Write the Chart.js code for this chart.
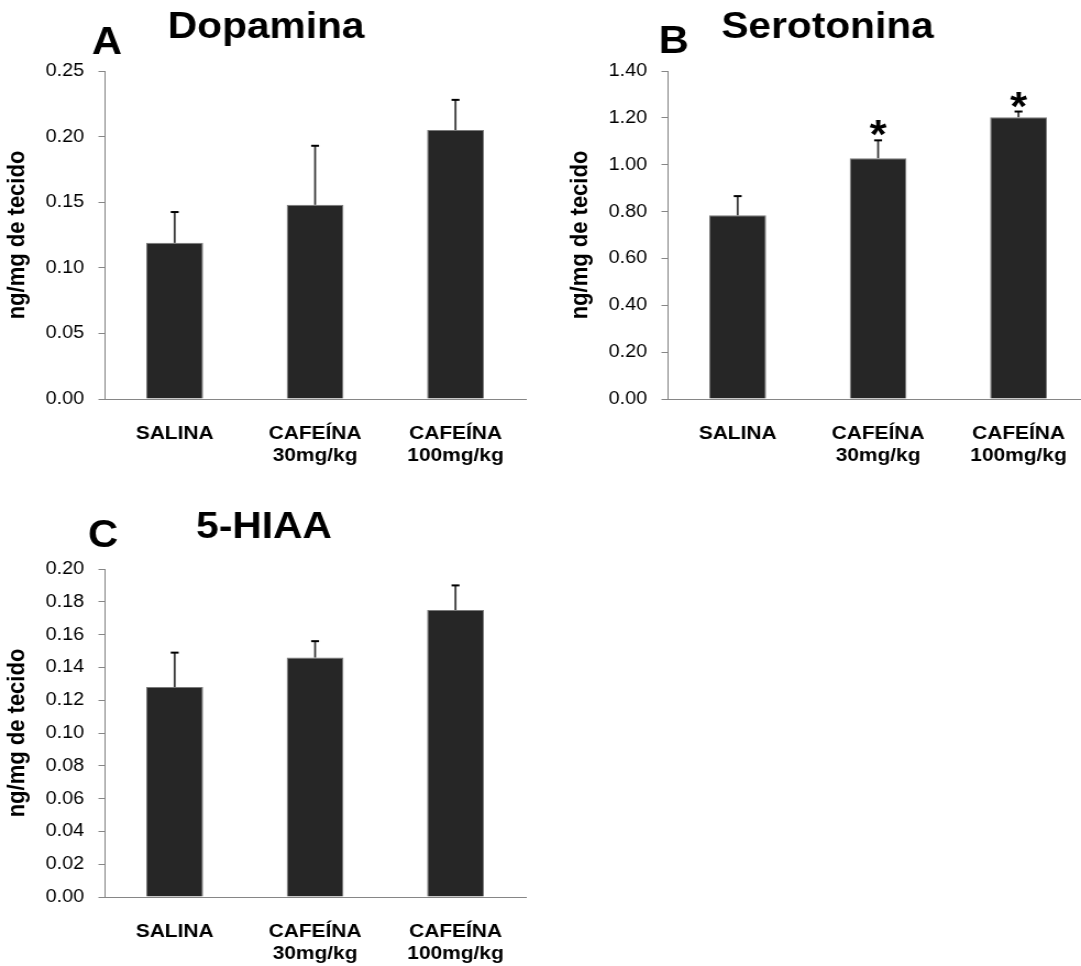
<!DOCTYPE html>
<html lang="pt">
<head>
<meta charset="UTF-8">
<script src="https://cdn.jsdelivr.net/npm/chart.js@4.4.0/dist/chart.umd.min.js"></script>
<title>Dopamina, Serotonina e 5-HIAA</title>
<style>
  html, body { margin: 0; padding: 0; background: #fff; overflow: hidden; width: 1081px; height: 966px; }
  .panel { position: absolute; width: 540px; height: 483px; }
  /* the original figure is a little wider than tall, so the drawing is stretched sideways */
  .panel canvas { display: block; width: 540px !important; height: 483px !important; }
</style>
</head>
<body>
<div class="panel" style="left:0;top:0"><canvas id="chartA" width="491" height="483"></canvas></div>
<div class="panel" style="left:563px;top:0"><canvas id="chartB" width="491" height="483"></canvas></div>
<div class="panel" style="left:0;top:498px"><canvas id="chartC" width="491" height="483"></canvas></div>
<script>
// data
var categories = ['SALINA', ['CAFEÍNA', '30mg/kg'], ['CAFEÍNA', '100mg/kg']];
var yTitle = 'ng/mg de tecido';

var dopamina = [0.119, 0.148, 0.205];
var dopaminaErr = [0.0235, 0.045, 0.023];
var dopaminaTicks = [0, 0.05, 0.10, 0.15, 0.20, 0.25];
var dopaminaSig = ['', '', ''];

var serotonina = [0.784, 1.028, 1.203];
var serotoninaErr = [0.082, 0.076, 0.024];
var serotoninaTicks = [0, 0.2, 0.4, 0.6, 0.8, 1.0, 1.2, 1.4];
var serotoninaSig = ['', '*', '*'];

var hiaa = [0.128, 0.146, 0.175];
var hiaaErr = [0.021, 0.010, 0.015];
var hiaaTicks = [0, 0.02, 0.04, 0.06, 0.08, 0.10, 0.12, 0.14, 0.16, 0.18, 0.20];
var hiaaSig = ['', '', ''];

var FONT = '"Liberation Sans", Arial, Helvetica, sans-serif';
Chart.defaults.font.family = FONT;
Chart.defaults.color = '#000';

// error bars (upper half only) and significance stars
var errorBars = {
    id: 'errorBars',
    afterDatasetsDraw: function(chart, args, opts) {
        var ctx = chart.ctx;
        var yScale = chart.scales.y;
        var vals = chart.data.datasets[0].data;
        var meta = chart.getDatasetMeta(0);
        ctx.save();
        meta.data.forEach(function(bar, i) {
            var yBar = yScale.getPixelForValue(vals[i]);
            var yTop = yScale.getPixelForValue(vals[i] + opts.errors[i]);
            ctx.strokeStyle = '#3a3a3a';
            ctx.lineWidth = 1.8;
            ctx.beginPath();
            ctx.moveTo(bar.x, yBar);
            ctx.lineTo(bar.x, yTop);
            ctx.stroke();
            ctx.strokeStyle = '#000';
            ctx.lineWidth = 2;
            ctx.beginPath();
            ctx.moveTo(bar.x - 3.6, yTop);
            ctx.lineTo(bar.x + 3.6, yTop);
            ctx.stroke();
            if (opts.marks[i]) {
                ctx.font = 'bold 40px ' + FONT;
                ctx.textAlign = 'center';
                ctx.textBaseline = 'alphabetic';
                var m = ctx.measureText(opts.marks[i]);
                var center = yTop - 12;
                var base = center + (m.actualBoundingBoxAscent - m.actualBoundingBoxDescent) / 2;
                ctx.fillStyle = '#000';
                ctx.fillText(opts.marks[i], bar.x, base);
            }
        });
        ctx.restore();
    }
};

var panelText = {
    id: 'panelText',
    afterDraw: function(chart, args, opts) {
        var ctx = chart.ctx;
        ctx.save();
        ctx.fillStyle = '#000';
        ctx.textBaseline = 'alphabetic';
        ctx.textAlign = 'left';
        ctx.font = 'bold 38px ' + FONT;
        ctx.fillText(opts.letter, opts.letterX, opts.letterY);
        ctx.textAlign = 'center';
        ctx.font = 'bold 37px ' + FONT;
        ctx.fillText(opts.title, opts.titleX, opts.titleY);
        ctx.restore();
    }
};

function makeChart(id, values, errors, ticks, marks, text) {
    var ctx = document.getElementById(id).getContext('2d');
    return new Chart(ctx, {
        type: 'bar',
        data: {
            labels: categories,
            datasets: [{
                data: values,
                backgroundColor: '#262626',
                borderColor: '#7a7a7a',
                borderWidth: 1,
                barPercentage: 0.405,
                categoryPercentage: 1
            }]
        },
        options: {
            responsive: false,
            devicePixelRatio: 1,
            animation: false,
            layout: { padding: { top: 71, left: 0, right: 13, bottom: 0 } },
            plugins: {
                legend: { display: false },
                tooltip: { enabled: false },
                errorBars: { errors: errors, marks: marks },
                panelText: text
            },
            scales: {
                x: {
                    afterFit: function(scale) { scale.height = 84; },
                    grid: { display: false },
                    border: { display: true, color: '#868686', width: 1 },
                    ticks: {
                        autoSkip: false,
                        maxRotation: 0,
                        padding: 15,
                        color: '#000',
                        font: { size: 19, weight: 'bold', lineHeight: 1.2 }
                    }
                },
                y: {
                    min: 0,
                    max: ticks[ticks.length - 1],
                    afterFit: function(scale) { scale.width = 95; },
                    afterBuildTicks: function(scale) {
                        scale.ticks = ticks.map(function(v) { return { value: v }; });
                    },
                    grid: { drawOnChartArea: false, drawTicks: true, tickLength: 5.5, color: '#868686' },
                    border: { display: true, color: '#868686', width: 1 },
                    ticks: {
                        padding: 13,
                        color: '#000',
                        font: { size: 18 },
                        callback: function(v) { return Number(v).toFixed(2); }
                    },
                    title: {
                        display: true,
                        text: yTitle,
                        color: '#000',
                        font: { size: 22, weight: 'bold' },
                        padding: { top: 3, bottom: 0 }
                    }
                }
            }
        },
        plugins: [errorBars, panelText]
    });
}

makeChart('chartA', dopamina, dopaminaErr, dopaminaTicks, dopaminaSig,
    { letter: 'A', letterX: 83.5, letterY: 54, title: 'Dopamina', titleX: 242, titleY: 38 });
makeChart('chartB', serotonina, serotoninaErr, serotoninaTicks, serotoninaSig,
    { letter: 'B', letterX: 87, letterY: 53, title: 'Serotonina', titleX: 240.5, titleY: 38 });
makeChart('chartC', hiaa, hiaaErr, hiaaTicks, hiaaSig,
    { letter: 'C', letterX: 80, letterY: 49, title: '5-HIAA', titleX: 240, titleY: 40 });
</script>
</body>
</html>
